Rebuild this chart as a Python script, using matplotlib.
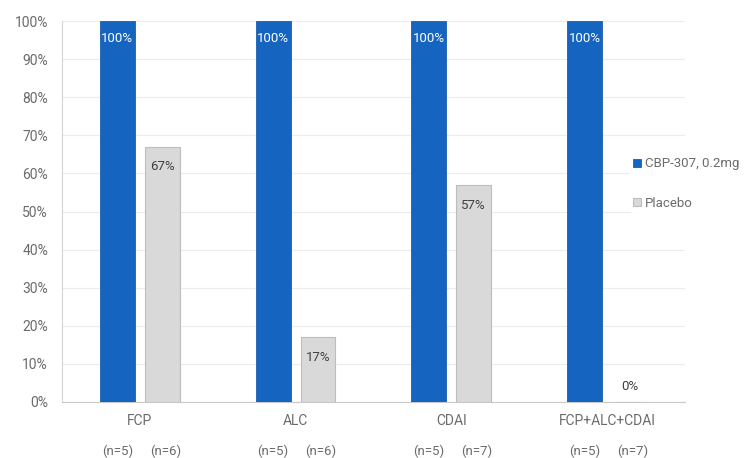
import matplotlib.pyplot as plt
import numpy as np

categories = ['FCP', 'ALC', 'CDAI', 'FCP+ALC+CDAI']
cbp_values = [100, 100, 100, 100]
placebo_values = [67, 17, 57, 0]
cbp_n = ['(n=5)', '(n=5)', '(n=5)', '(n=5)']
placebo_n = ['(n=6)', '(n=6)', '(n=7)', '(n=7)']
series_names = ['CBP-307, 0.2mg', 'Placebo']

plt.rcParams['font.family'] = ['Roboto', 'DejaVu Sans']
txt = '#6b6b6b'
blue = '#1565c0'
grey = '#d9d9d9'

fig = plt.figure(figsize=(7.44, 4.58), dpi=100)
ax = fig.add_axes([0.0833, 0.1223, 0.8374, 0.8318])

x = np.arange(len(categories))
w = 0.224
off = 0.144
ax.bar(x - off, cbp_values, w, color=blue, edgecolor='#1a5fb0', linewidth=0.6,
       label=series_names[0], zorder=3)
ax.bar(x + off, placebo_values, w, color=grey, edgecolor='#bdbdbd', linewidth=0.8,
       label=series_names[1], zorder=3)

for i, v in enumerate(cbp_values):
    ax.text(x[i] - off, v - 4.5, '%d%%' % v, ha='center', va='center',
            color='white', fontsize=9.5, zorder=4)
for i, v in enumerate(placebo_values):
    if v > 5:
        ax.text(x[i] + off, v - 5.3, '%d%%' % v, ha='center', va='center',
                color='#404040', fontsize=9.5, zorder=4)
    else:
        ax.text(x[i] + off, v + 4, '%d%%' % v, ha='center', va='center',
                color='#404040', fontsize=9.5, zorder=4)

ax.set_xlim(-0.5, len(categories) - 0.5)
ax.set_ylim(0, 100)
ax.set_yticks(np.arange(0, 101, 10))
ax.set_yticklabels(['%d%%' % t for t in range(0, 101, 10)])
ax.set_xticks(x)
ax.set_xticklabels(categories)
ax.tick_params(axis='both', length=0, colors=txt, labelsize=10)
ax.tick_params(axis='x', pad=9)
ax.tick_params(axis='y', pad=10)
ax.grid(axis='y', color='#ececec', linewidth=0.8, zorder=0)

for i in range(len(categories)):
    ax.text(x[i] - off, -12.9, cbp_n[i], ha='center', va='center',
            color=txt, fontsize=9.5, clip_on=False)
    ax.text(x[i] + off + 0.02, -12.9, placebo_n[i], ha='center', va='center',
            color=txt, fontsize=9.5, clip_on=False)

for s in ['top', 'right']:
    ax.spines[s].set_visible(False)
ax.spines['left'].set_color('#d4d4d4')
ax.spines['bottom'].set_color('#c8c8c8')

leg = ax.legend(loc='center left', bbox_to_anchor=(0.912, 0.573), frameon=True,
                fontsize=9.5, handlelength=0.6, handleheight=0.6, handletextpad=0.3,
                labelspacing=2.0, borderaxespad=0, borderpad=0.2, framealpha=1)
leg.get_frame().set_edgecolor('none')
for t in leg.get_texts():
    t.set_color(txt)

plt.savefig('out.png', dpi=100)
